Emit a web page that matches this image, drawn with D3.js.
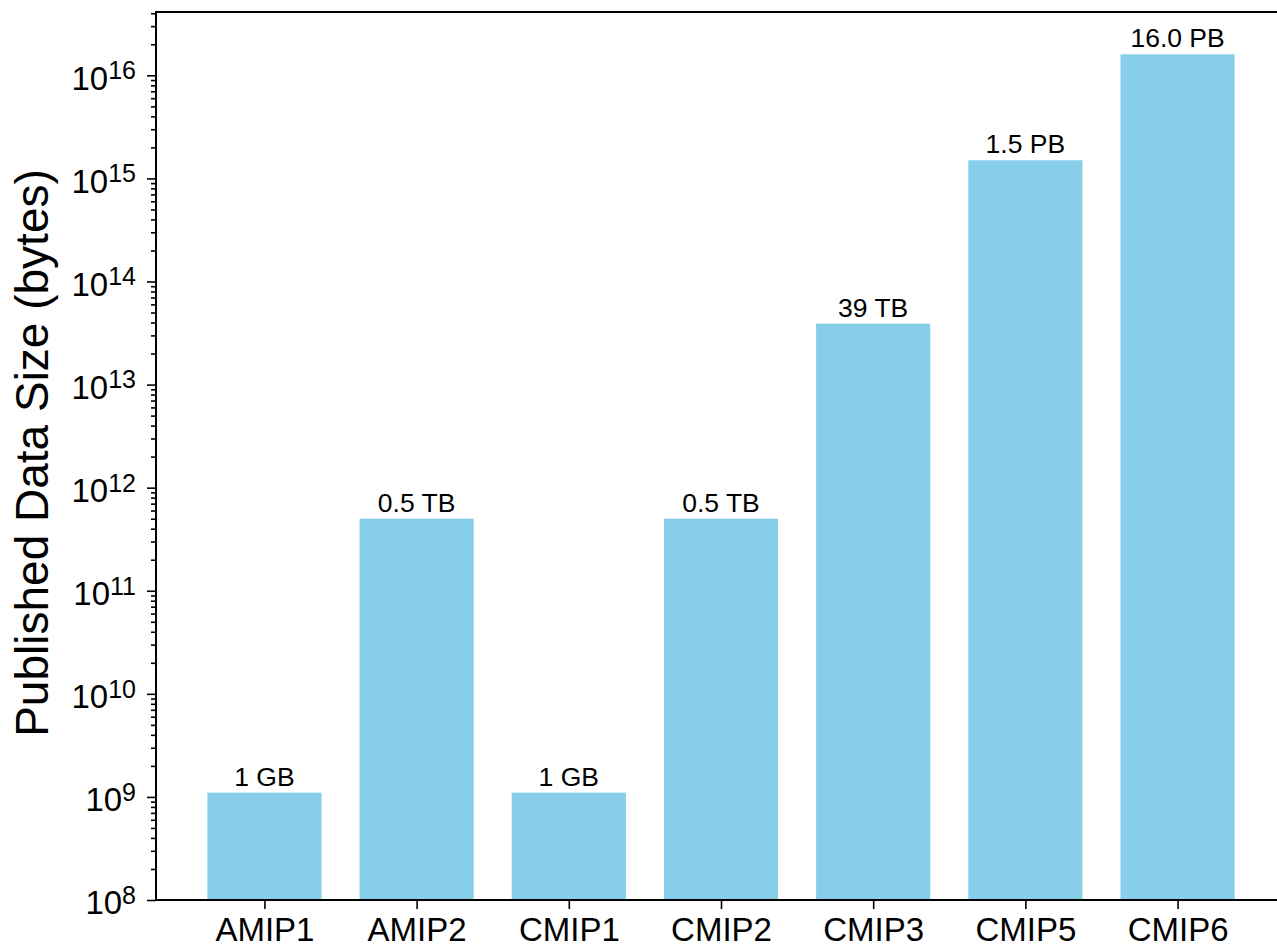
<!DOCTYPE html>
<html>
<head>
<meta charset="utf-8">
<script src="https://cdn.jsdelivr.net/npm/d3@7"></script>
<style>
  body { margin: 0; background: #fff; }
  svg { display: block; font-family: "Liberation Sans", Arial, Helvetica, sans-serif; }
</style>
</head>
<body>
<script>
// data
var categories = ["AMIP1", "AMIP2", "CMIP1", "CMIP2", "CMIP3", "CMIP5", "CMIP6"];
var sizes = [1.1e9, 5e11, 1.1e9, 5e11, 3.9e13, 1.5e15, 1.6e16];
var sizeLabels = ["1 GB", "0.5 TB", "1 GB", "0.5 TB", "39 TB", "1.5 PB", "16.0 PB"];
var majorTicks = [1e8, 1e9, 1e10, 1e11, 1e12, 1e13, 1e14, 1e15, 1e16];

var W = 1277, H = 948;
var margin = {top: 12, bottom: 48, left: 156};
var barWidth = 0.75;

var svg = d3.select("body").append("svg")
    .attr("width", W)
    .attr("height", H);

// x: bar index, with 5% margins like matplotlib
var n = categories.length;
var span = (n - 1) + barWidth;
var lo = -barWidth / 2 - 0.05 * span,
    hi = (n - 1) + barWidth / 2 + 0.05 * span;
var plotRight = 1286;

var x = d3.scaleLinear()
    .domain([lo, hi])
    .range([margin.left, plotRight]);

// y: log, bottom fixed at 1e8, top padded 5% in log space
var yMinLog = 8;
var yMaxLog = Math.log10(d3.max(sizes));
var topLog = yMaxLog + 0.05 * (yMaxLog - yMinLog);

var y = d3.scaleLog()
    .domain([1e8, Math.pow(10, topLog)])
    .range([H - margin.bottom, margin.top]);

// minor ticks
var minorTicks = [];
for (var e = 8; e <= 16; e++) {
    for (var m = 2; m <= 9; m++) {
        var v = m * Math.pow(10, e);
        if (v <= y.domain()[1]) minorTicks.push(v);
    }
}

// bars
svg.append("g").selectAll("rect")
    .data(sizes)
    .enter().append("rect")
    .attr("x", function(d, i) { return x(i - barWidth / 2); })
    .attr("width", function(d, i) { return x(i + barWidth / 2) - x(i - barWidth / 2); })
    .attr("y", function(d) { return y(d); })
    .attr("height", function(d) { return y(1e8) - y(d); })
    .attr("fill", "#87ceeb");

// bar labels
svg.append("g").selectAll("text")
    .data(sizes)
    .enter().append("text")
    .attr("x", function(d, i) { return x(i); })
    .attr("y", function(d) { return y(d) - 7; })
    .attr("text-anchor", "middle")
    .style("font-size", "26.5px")
    .style("fill", "#000")
    .text(function(d, i) { return sizeLabels[i]; });

// y axis minor
var yMinor = d3.axisLeft(y)
    .tickValues(minorTicks)
    .tickSize(5)
    .tickFormat("");

svg.append("g")
    .attr("class", "y minor")
    .attr("transform", "translate(" + margin.left + ",0)")
    .call(yMinor);

// y axis major
var yAxis = d3.axisLeft(y)
    .tickValues(majorTicks)
    .tickSize(9)
    .tickPadding(11)
    .tickFormat(function(d) { return Math.round(Math.log10(d)); });

var gy = svg.append("g")
    .attr("class", "y axis")
    .attr("transform", "translate(" + margin.left + ",0)")
    .call(yAxis);

gy.selectAll(".tick text").each(function(d) {
    var t = d3.select(this);
    var exp = Math.round(Math.log10(d));
    t.text(null)
        .style("font-size", "33px")
        .attr("dy", "0.42em");
    t.append("tspan").text("10");
    t.append("tspan")
        .attr("dy", "-0.42em")
        .style("font-size", "25px")
        .text(exp);
});

// x axis
var xAxis = d3.axisBottom(x)
    .tickValues(d3.range(n))
    .tickSize(9)
    .tickPadding(10)
    .tickFormat(function(i) { return categories[i]; });

var gx = svg.append("g")
    .attr("class", "x axis")
    .attr("transform", "translate(0," + (H - margin.bottom) + ")")
    .call(xAxis);

gx.selectAll(".tick text")
    .style("font-size", "33px")
    .attr("y", 41)
    .attr("dy", null);

svg.selectAll(".axis .domain, .minor .domain").remove();
svg.selectAll(".tick line").attr("stroke", "#000").attr("stroke-width", 1.6);
svg.selectAll(".tick text").attr("fill", "#000");

// spines
svg.append("path")
    .attr("d", "M" + margin.left + "," + y.range()[0] + "V" + margin.top + "H" + plotRight + "V" + y.range()[0] + "Z")
    .attr("fill", "none")
    .attr("stroke", "#000")
    .attr("stroke-width", 2);

// y label
svg.append("text")
    .attr("transform", "translate(48,453) rotate(-90)")
    .attr("text-anchor", "middle")
    .style("font-size", "46px")
    .text("Published Data Size (bytes)");
</script>
</body>
</html>
